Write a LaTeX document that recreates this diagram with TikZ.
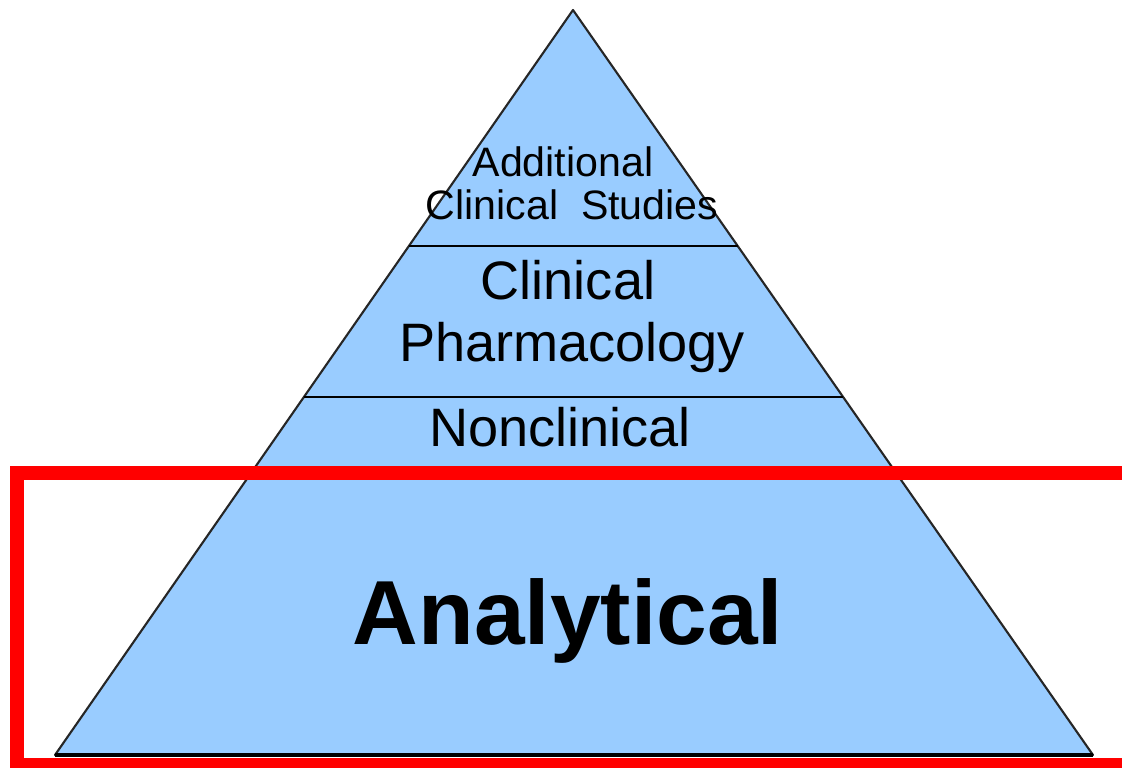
\documentclass[tikz,border=0pt]{standalone}
\usepackage{fontspec}
\setmainfont{Liberation Sans}
\usetikzlibrary{calc}

\definecolor{pyrblue}{RGB}{153,204,255}

\tikzset{
	tier/.style = {anchor = base, inner sep = 0pt, font = \fontsize{15.4}{18}\selectfont},
	toptier/.style = {tier, font = \fontsize{11.7}{14}\selectfont},
	basetier/.style = {tier, font = \fontsize{25.9}{30}\bfseries\selectfont}
}

\begin{document}
\begin{tikzpicture}
		\def\ta{0.3168};
		\def\tb{0.5195};

		\clip (0,0) rectangle (11.22,7.68);
		\useasboundingbox (0,0) rectangle (11.22,7.68);

		\coordinate (apex) at (5.73,7.58);
		\coordinate (bl) at (0.55,0.13);
		\coordinate (br) at (10.93,0.13);

		% pyramid
		\filldraw[fill = pyrblue, draw = black!85, line width = 0.6pt, line join = round] (apex) -- (bl) -- (br) -- cycle;
		\draw[line width = 1.1pt] (bl) -- (br);

		% tiers
		\draw[line width = 0.8pt] ($(apex)!\ta!(bl)$) -- ($(apex)!\ta!(br)$);
		\draw[line width = 0.8pt] ($(apex)!\tb!(bl)$) -- ($(apex)!\tb!(br)$);

		\node[toptier] (add) at (5.63,5.91) {Additional};
		\node[toptier] (stud) at (5.72,5.48) {Clinical\ \ Studies};
		\node[tier] (clin) at (5.68,4.68) {Clinical};
		\node[tier] (pharm) at (5.72,4.06) {Pharmacology};
		\node[tier] (noncl) at (5.60,3.21) {Nonclinical};
		\node[basetier] (anal) at (5.68,1.23) {Analytical};

		% highlight
		\draw[red, line width = 0.14cm] (0.17,0.03) rectangle (11.5,2.95);
	\end{tikzpicture}
\end{document}
